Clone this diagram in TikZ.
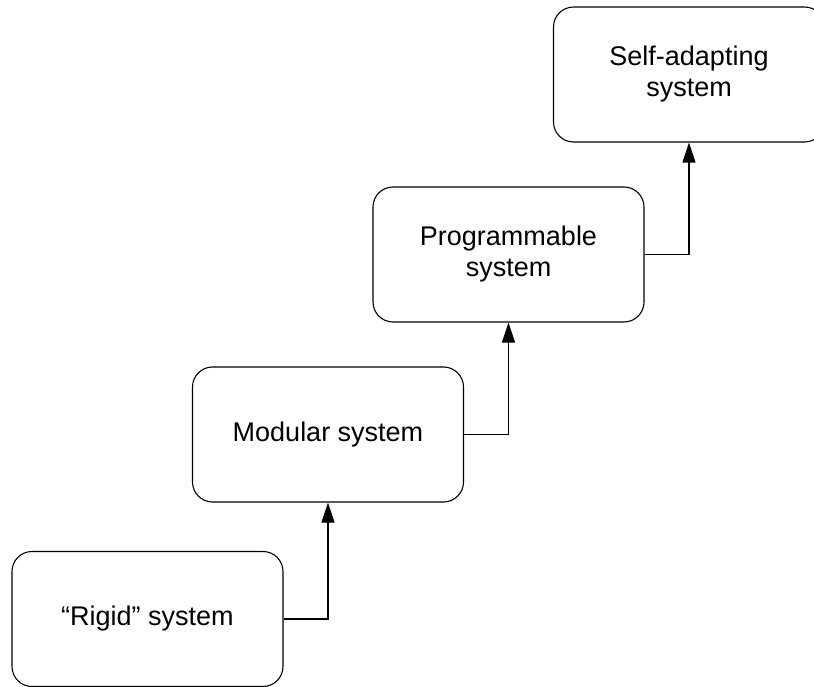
\documentclass[tikz,border=0pt]{standalone}
\usepackage{fontspec}
\setmainfont{Liberation Sans}
\usetikzlibrary{arrows.meta}
\begin{document}
\begin{tikzpicture}[x=1pt,y=-1pt,
  stagebox/.style={draw=black, line width=1.1pt, rounded corners=20pt,
    minimum width=271pt, minimum height=135pt, align=center,
    font=\fontsize{27}{31}\selectfont, inner sep=0pt},
  flow/.style={draw=black, line width=1.1pt,
    -{Triangle[length=20pt,width=13pt]}}]
  \useasboundingbox (0,0) rectangle (814,687);
  \node[stagebox] (rigid) at (147.5,619) {``Rigid'' system};
  \node[stagebox] (modular) at (328,434.5) {Modular system};
  \node[stagebox] (prog) at (508.5,254.5) {Programmable\\system};
  \node[stagebox] (self) at (689,74.5) {Self-adapting\\system};
  \draw[flow] (rigid.east) -| (modular.south);
  \draw[flow] (modular.east) -| (prog.south);
  \draw[flow] (prog.east) -| (self.south);
\end{tikzpicture}
\end{document}
